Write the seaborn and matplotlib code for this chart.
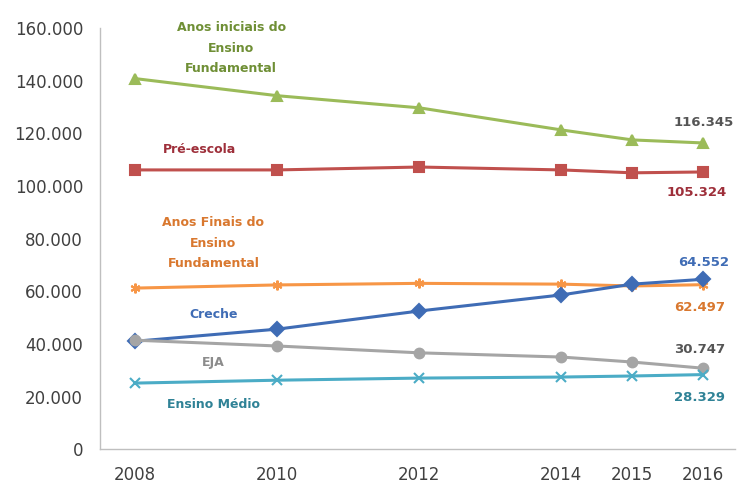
import pandas as pd
import matplotlib
matplotlib.use("Agg")
import matplotlib.pyplot as plt
import seaborn as sns

# Values
years = [2008, 2010, 2012, 2014, 2015, 2016]
anos_iniciais = [140800, 134300, 129700, 121300, 117500, 116345]
pre_escola = [106100, 106100, 107200, 106100, 105000, 105324]
anos_finais = [61200, 62400, 63000, 62700, 62000, 62497]
creche = [41000, 45600, 52500, 58600, 62700, 64552]
eja = [41400, 39200, 36600, 35000, 33100, 30747]
ensino_medio = [25100, 26200, 27000, 27400, 27800, 28329]

series = ["Anos iniciais", "Pré-escola", "Anos Finais", "Creche", "EJA", "Ensino Médio"]
values = [anos_iniciais, pre_escola, anos_finais, creche, eja, ensino_medio]

rows = []
for name, vals in zip(series, values):
    for y, v in zip(years, vals):
        rows.append({"ano": y, "matriculas": v, "etapa": name})
df = pd.DataFrame(rows)

line_colors = {"Anos iniciais": "#9BBB59", "Pré-escola": "#C0504D", "Anos Finais": "#F79646",
               "Creche": "#3F6CB5", "EJA": "#A5A5A5", "Ensino Médio": "#4BACC6"}
text_colors = {"Anos iniciais": "#6F8F35", "Pré-escola": "#9E2F3A", "Anos Finais": "#D9782F",
               "Creche": "#3F6CB5", "EJA": "#8C8C8C", "Ensino Médio": "#2F8296"}
markers = {"Anos iniciais": "^", "Pré-escola": "s", "Anos Finais": (6, 2, 0),
           "Creche": "D", "EJA": "o", "Ensino Médio": "x"}

sns.set_style("white")
fig = plt.figure(figsize=(7.39, 4.84), dpi=100)
ax = fig.add_axes([0.135, 0.072, 0.86, 0.87])

for name in series:
    d = df[df["etapa"] == name]
    sns.lineplot(data=d, x="ano", y="matriculas", ax=ax, color=line_colors[name],
                 marker=markers[name], markersize=7, linewidth=2.2,
                 markeredgecolor=line_colors[name], markeredgewidth=1.5, legend=False)

ax.set_xlim(2007.5, 2016.45)
ax.set_ylim(0, 160000)
ax.set_xticks(years)
ax.set_yticks(range(0, 160001, 20000))
ax.set_yticklabels([f"{v:,}".replace(",", ".") for v in range(0, 160001, 20000)])
ax.tick_params(axis="both", labelsize=12, colors="#404040", length=0, pad=12)
ax.set_xlabel("")
ax.set_ylabel("")
for s in ["top", "right"]:
    ax.spines[s].set_visible(False)
for s in ["left", "bottom"]:
    ax.spines[s].set_color("#BFBFBF")
    ax.spines[s].set_linewidth(1)

# series names
lab_kw = dict(ha="center", va="center", fontsize=9, fontweight="bold")
ax.text(2009.35, 152300, "Anos iniciais do\nEnsino\nFundamental", color=text_colors["Anos iniciais"],
        linespacing=1.75, **lab_kw)
ax.text(2008.9, 113700, "Pré-escola", color=text_colors["Pré-escola"], **lab_kw)
ax.text(2009.1, 78200, "Anos Finais do\nEnsino\nFundamental", color=text_colors["Anos Finais"],
        linespacing=1.75, **lab_kw)
ax.text(2009.1, 51000, "Creche", color=text_colors["Creche"], **lab_kw)
ax.text(2009.1, 33000, "EJA", color=text_colors["EJA"], **lab_kw)
ax.text(2009.1, 17000, "Ensino Médio", color=text_colors["Ensino Médio"], **lab_kw)

# end value labels
val_kw = dict(ha="center", va="center", fontsize=9.5, fontweight="bold")
ax.text(2016.0, 124000, "116.345", color="#555555", **val_kw)
ax.text(2015.9, 97500, "105.324", color=text_colors["Pré-escola"], **val_kw)
ax.text(2016.0, 71000, "64.552", color=text_colors["Creche"], **val_kw)
ax.text(2015.95, 54000, "62.497", color=text_colors["Anos Finais"], **val_kw)
ax.text(2015.95, 38000, "30.747", color="#555555", **val_kw)
ax.text(2015.95, 19500, "28.329", color=text_colors["Ensino Médio"], **val_kw)

fig.savefig("out.png", dpi=100)
